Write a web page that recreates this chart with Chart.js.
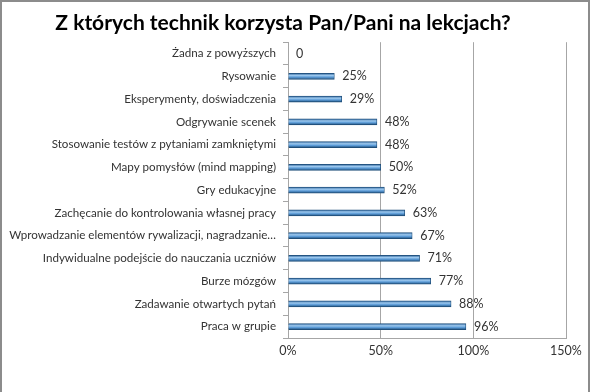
<!DOCTYPE html>
<html>
<head>
<meta charset="utf-8">
<script src="https://cdn.jsdelivr.net/npm/chart.js@4"></script>
<style>
  body { margin: 0; background: #fff; }
  #wrap { width: 591px; height: 392px; }
</style>
</head>
<body>
<div id="wrap"><canvas id="myChart" width="591" height="392"></canvas></div>
<script>
  const categories = [
    "Żadna z powyższych",
    "Rysowanie",
    "Eksperymenty, doświadczenia",
    "Odgrywanie scenek",
    "Stosowanie testów z pytaniami zamkniętymi",
    "Mapy pomysłów (mind mapping)",
    "Gry edukacyjne",
    "Zachęcanie do kontrolowania własnej pracy",
    "Wprowadzanie elementów rywalizacji, nagradzanie…",
    "Indywidualne podejście do nauczania uczniów",
    "Burze mózgów",
    "Zadawanie otwartych pytań",
    "Praca w grupie",
  ];
  const values = [0, 25, 29, 48, 48, 50, 52, 63, 67, 71, 77, 88, 96];
  const xTicks = [0, 50, 100, 150];

  const font = "Lato, 'Open Sans', sans-serif";

  // bar colour: light stripe in the middle, dark edges
  function barFill(context) {
    const chart = context.chart;
    const y = chart.scales && chart.scales.y;
    if (!y || !chart.chartArea) return "#4f93d1";
    const py = y.getPixelForValue(context.dataIndex);
    const g = chart.ctx.createLinearGradient(0, py - 3, 0, py + 3);
    g.addColorStop(0, "#2a5f95");
    g.addColorStop(0.35, "#9cc8ee");
    g.addColorStop(0.65, "#5a9ad6");
    g.addColorStop(1, "#1f4e79");
    return g;
  }

  // value labels to the right of the bars
  const valueLabels = {
    id: "valueLabels",
    afterDatasetsDraw(chart) {
      const ctx = chart.ctx;
      const meta = chart.getDatasetMeta(0);
      ctx.save();
      ctx.font = "12.5px " + font;
      ctx.fillStyle = "#333";
      ctx.textAlign = "left";
      ctx.textBaseline = "middle";
      meta.data.forEach(function (bar, i) {
        const v = values[i];
        ctx.fillText(v === 0 ? "0" : v + "%", bar.x + 8, bar.y);
      });
      ctx.restore();
    },
  };

  // grey frame round the picture (left, top, right)
  const frame = {
    id: "frame",
    beforeDraw(chart) {
      const ctx = chart.ctx;
      ctx.save();
      ctx.fillStyle = "#fff";
      ctx.fillRect(0, 0, chart.width, chart.height);
      ctx.strokeStyle = "#8c8c8c";
      ctx.lineWidth = 2;
      ctx.beginPath();
      ctx.moveTo(1, chart.height);
      ctx.lineTo(1, 1);
      ctx.lineTo(589, 1);
      ctx.lineTo(589, chart.height);
      ctx.stroke();
      ctx.restore();
    },
  };

  const myChart = document.getElementById("myChart").getContext("2d");
  new Chart(myChart, {
    type: "bar",
    data: {
      labels: categories,
      datasets: [
        {
          data: values,
          backgroundColor: barFill,
          borderColor: "#1f4e79",
          borderWidth: 0.8,
          barThickness: 6,
        },
      ],
    },
    options: {
      indexAxis: "y",
      responsive: false,
      animation: false,
      layout: { padding: { left: 0, right: 25, top: 0, bottom: 24 } },
      plugins: {
        legend: { display: false },
        tooltip: { enabled: false },
        title: {
          display: true,
          text: "Z których technik korzysta Pan/Pani na lekcjach?",
          color: "#000",
          font: { family: font, size: 21, weight: "bold" },
          padding: { top: 11, bottom: 6 },
        },
      },
      scales: {
        x: {
          min: 0,
          max: 150,
          afterBuildTicks(scale) {
            scale.ticks = xTicks.map((v) => ({ value: v }));
          },
          afterFit(scale) {
            scale.height = 30;
          },
          grid: {
            color: "#a6a6a6",
            drawTicks: false,
          },
          border: { color: "#a6a6a6" },
          ticks: {
            padding: 5,
            color: "#333",
            font: { family: font, size: 12.5 },
            callback: (v) => v + "%",
          },
        },
        y: {
          afterFit(scale) {
            scale.width = 288;
          },
          grid: {
            drawOnChartArea: false,
            tickLength: 5,
            color: "#a6a6a6",
          },
          border: { color: "#a6a6a6" },
          ticks: {
            padding: 7,
            color: "#333",
            autoSkip: false,
            font: { family: font, size: 11.6 },
          },
        },
      },
    },
    plugins: [frame, valueLabels],
  });
</script>
</body>
</html>
